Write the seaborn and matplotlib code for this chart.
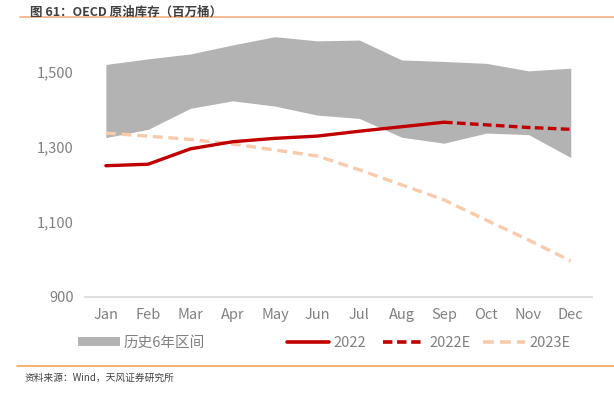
import numpy as np
import pandas as pd
import seaborn as sns
import matplotlib.pyplot as plt
from matplotlib.patches import Patch
from matplotlib.lines import Line2D

months = ["Jan", "Feb", "Mar", "Apr", "May", "Jun", "Jul", "Aug", "Sep", "Oct", "Nov", "Dec"]
band_high = [1520, 1535, 1548, 1572, 1594, 1583, 1585, 1532, 1528, 1523, 1503, 1510]
band_low = [1325, 1347, 1403, 1423, 1409, 1385, 1376, 1326, 1310, 1337, 1333, 1272]
actual_2022 = [1250, 1254, 1295, 1314, 1323, 1329, 1342, 1354, 1366]
est_2022 = [1366, 1359, 1352, 1347]
est_2023 = [1337, 1329, 1320, 1308, 1292, 1276, 1239, 1199, 1159, 1105, 1052, 996]

sns.set_theme(style="white")
plt.rcParams["font.family"] = ["Noto Sans CJK SC", "DejaVu Sans"]

gray_txt = "#808080"
red = "#c00000"
peach = "#f8cbad"
band_c = "#b3b3b3"
dash_22e = (0, (2.6, 1.3))
dash_23e = (0, (3, 1.7))

fig = plt.figure(figsize=(6.14, 3.96), dpi=100)
ax = fig.add_axes([0.138, 0.25, 0.826, 0.663])

x = np.arange(len(months))
ax.fill_between(x, band_low, band_high, color=band_c, linewidth=0)

df23 = pd.DataFrame({"m": x, "v": est_2023})
sns.lineplot(data=df23, x="m", y="v", ax=ax, color=peach, linewidth=2.4, linestyle=dash_23e)
df22 = pd.DataFrame({"m": x[:len(actual_2022)], "v": actual_2022})
sns.lineplot(data=df22, x="m", y="v", ax=ax, color=red, linewidth=2.4)
df22e = pd.DataFrame({"m": x[len(actual_2022) - 1:], "v": est_2022})
sns.lineplot(data=df22e, x="m", y="v", ax=ax, color=red, linewidth=2.4, linestyle=dash_22e)

ax.set_xlim(-0.5, 11.5)
ax.set_ylim(900, 1600)
ax.set_yticks([900, 1100, 1300, 1500])
ax.set_yticklabels(["900", "1,100", "1,300", "1,500"])
ax.set_xticks(x)
ax.set_xticklabels(months)
ax.set_xlabel("")
ax.set_ylabel("")
for s in ["top", "right", "left"]:
    ax.spines[s].set_visible(False)
ax.spines["bottom"].set_color("#d9d9d9")
ax.spines["bottom"].set_linewidth(1.2)
ax.tick_params(axis="both", colors=gray_txt, labelsize=10.5, length=0, pad=8)

# legend entries placed one by one, like the Excel legend
entries = [
    (Patch(facecolor=band_c, edgecolor="none"), "历史6年区间", 78),
    (Line2D([], [], color=red, linewidth=2.6), "2022", 287),
    (Line2D([], [], color=red, linewidth=2.6, linestyle=dash_22e), "2022E", 383),
    (Line2D([], [], color=peach, linewidth=2.6, linestyle=dash_23e), "2023E", 483),
]
for h, lab, px in entries:
    leg = fig.legend([h], [lab], loc="center left", bbox_to_anchor=(px / 614, 1 - 343 / 396),
                     frameon=False, fontsize=10.5, handlelength=2.9, handleheight=0.6,
                     handletextpad=0.25, borderpad=0, borderaxespad=0)
    leg.get_texts()[0].set_color(gray_txt)

fig.text(0.049, 0.985, "图 61：OECD 原油库存（百万桶）", fontsize=9, fontweight="bold",
         color="#404040", va="top", ha="left")
fig.add_artist(Line2D([0.033, 1.0], [0.957, 0.957], color="#f4b183", linewidth=1.2))
fig.add_artist(Line2D([0.028, 1.0], [0.077, 0.077], color="#f4a460", linewidth=1.2))
fig.text(0.04, 0.045, "资料来源：Wind，天风证券研究所", fontsize=7, color="#404040",
         va="center", ha="left")

fig.savefig("out.png", dpi=100)
